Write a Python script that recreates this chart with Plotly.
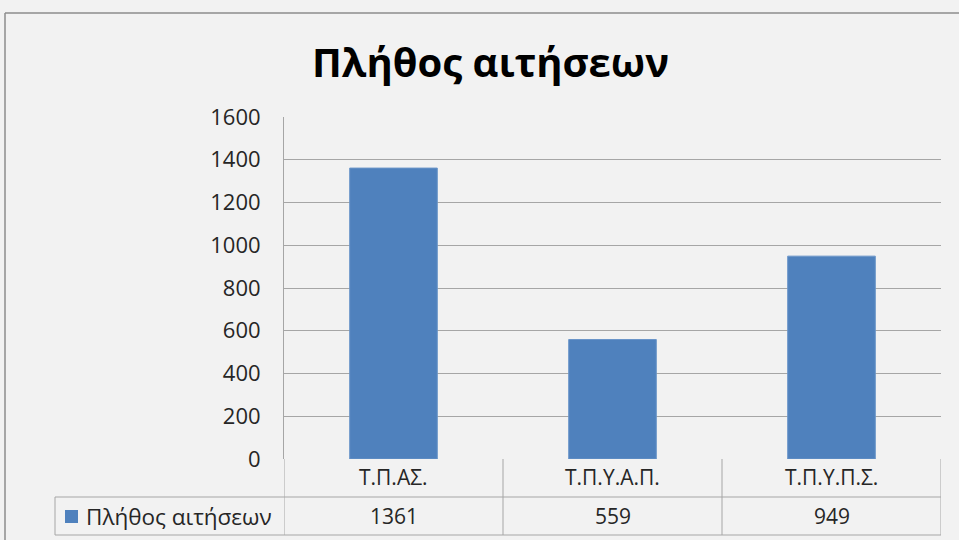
import plotly.graph_objects as go

title_text = "Πλήθος αιτήσεων"
series_name = "Πλήθος αιτήσεων"
categories = ["Τ.Π.ΑΣ.", "Τ.Π.Υ.Α.Π.", "Τ.Π.Υ.Π.Σ."]
values = [1361, 559, 949]
y_ticks = [0, 200, 400, 600, 800, 1000, 1200, 1400, 1600]

W, H = 959, 540
L, R, T, B = 284, 941, 117, 459
pw, ph = R - L, B - T

def px(x):
    return (x - L) / pw

def py(y):
    return (B - y) / ph

BAR = "#4F81BD"
GRID = "#A6A6A6"
FONT = "Open Sans"
TXT = "#262626"

fig = go.Figure()
fig.add_trace(go.Bar(
    x=list(range(len(categories))), y=values, name=series_name,
    marker=dict(color=BAR, line=dict(color="#6A95C9", width=1)),
    width=0.4, showlegend=False, hoverinfo="y",
))

shapes = []
# outer chart border
shapes.append(dict(type="line", xref="paper", yref="paper", x0=px(5), x1=px(W + 20), y0=py(13), y1=py(13),
                   line=dict(color="#8C8C8C", width=1.5)))
shapes.append(dict(type="line", xref="paper", yref="paper", x0=px(5), x1=px(5), y0=py(13), y1=py(H + 20),
                   line=dict(color="#8C8C8C", width=1.5)))
# table
row_mid, row_bot = 497, 535
tbl_left = 55
n = len(categories)
for i in range(n + 1):
    shapes.append(dict(type="line", xref="x", yref="paper", x0=i - 0.5, x1=i - 0.5,
                       y0=py(B), y1=py(row_bot), line=dict(color=GRID, width=1)))
shapes.append(dict(type="line", xref="paper", yref="paper", x0=px(tbl_left), x1=px(tbl_left),
                   y0=py(row_mid), y1=py(row_bot), line=dict(color=GRID, width=1)))
shapes.append(dict(type="line", xref="paper", yref="paper", x0=px(tbl_left), x1=1,
                   y0=py(row_mid), y1=py(row_mid), line=dict(color=GRID, width=1)))
shapes.append(dict(type="line", xref="paper", yref="paper", x0=px(tbl_left), x1=1,
                   y0=py(row_bot), y1=py(row_bot), line=dict(color=GRID, width=1)))
# legend key square
shapes.append(dict(type="rect", xref="paper", yref="paper", x0=px(65), x1=px(78),
                   y0=py(510), y1=py(523), fillcolor=BAR, line=dict(width=0)))

annotations = []
annotations.append(dict(text=f"<b>{title_text}</b>", xref="paper", yref="paper", x=px(490), y=py(61),
                        showarrow=False, font=dict(family=FONT, size=40, color="#000000"),
                        xanchor="center", yanchor="middle"))
for i, c in enumerate(categories):
    annotations.append(dict(text=c, xref="x", yref="paper", x=i, y=py(477), showarrow=False,
                            font=dict(family=FONT, size=21, color=TXT), xanchor="center", yanchor="middle"))
    annotations.append(dict(text=str(values[i]), xref="x", yref="paper", x=i, y=py(516), showarrow=False,
                            font=dict(family=FONT, size=21, color=TXT), xanchor="center", yanchor="middle"))
annotations.append(dict(text=series_name, xref="paper", yref="paper", x=px(84), y=py(516), showarrow=False,
                        font=dict(family=FONT, size=22.5, color=TXT), xanchor="left", yanchor="middle"))

fig.update_layout(
    width=W, height=H,
    margin=dict(l=L, r=W - R, t=T, b=H - B, pad=0),
    paper_bgcolor="#F2F2F2", plot_bgcolor="#F2F2F2",
    shapes=shapes, annotations=annotations,
    xaxis=dict(range=[-0.5, n - 0.5], showticklabels=False, showgrid=False, zeroline=False,
               showline=False, ticks="", fixedrange=True),
    yaxis=dict(range=[0, 1600], tickvals=y_ticks, ticktext=[str(v) for v in y_ticks],
               showgrid=True, gridcolor=GRID, gridwidth=1, zeroline=False,
               showline=True, linecolor=GRID, linewidth=1, ticks="", ticklabelstandoff=18,
               tickfont=dict(family=FONT, size=22, color=TXT), fixedrange=True),
    font=dict(family=FONT),
)

fig.write_html("out.html", config={"displayModeBar": False},
               post_script="document.body.style.margin='0';document.body.style.background='#F2F2F2';")
